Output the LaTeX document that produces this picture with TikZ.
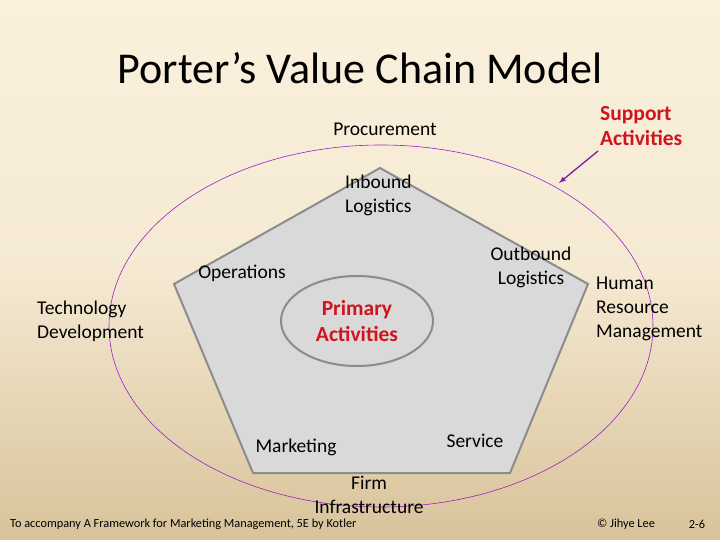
\documentclass[tikz,border=0pt]{standalone}
\usepackage{fontspec}
\setmainfont{Carlito}
\definecolor{bgtop}{HTML}{FAF0DC}
\definecolor{bgbot}{HTML}{D8C39A}
\definecolor{pent}{HTML}{D9D9D9}
\definecolor{pentline}{HTML}{8C8C8C}
\definecolor{redtxt}{HTML}{D0141E}
\definecolor{purp}{HTML}{9A20C8}
\definecolor{arrowc}{HTML}{7A1FA2}
\begin{document}
\begin{tikzpicture}[x=1pt,y=-1pt,
  lbl/.style={font=\fontsize{19.5}{24}\selectfont, align=center, inner sep=0pt},
  lbll/.style={lbl, align=left},
  redl/.style={lbl, text=redtxt, font=\fontsize{21.5}{25.5}\selectfont\bfseries},
  foot/.style={font=\fontsize{12.3}{14}\selectfont, inner sep=0pt}]
\shade[top color=bgtop, bottom color=bgbot, middle color=bgtop!85!bgbot] (0,0) rectangle (720,540);
\useasboundingbox (0,0) rectangle (720,540);
\node[font=\fontsize{44}{52}\selectfont, inner sep=0pt] (title) at (360,68) {Porter’s Value Chain Model};
\draw[purp, line width=0.6pt] (381,326) ellipse [x radius=272, y radius=181];
\coordinate (el) at (559,183);
\coordinate (s0) at (598,151);
\draw[pentline, line width=2pt, fill=pent, line join=miter] (380,168) -- (588,284) -- (510,473) -- (253,473) -- (174,284) -- cycle;
\draw[pentline, line width=2pt] (357,321) ellipse [x radius=76, y radius=45];
\node[lbl] (proc) at (385,129) {Procurement};
\node[redl, align=left, anchor=west] (sup) at (600,126) {Support\\Activities};
\draw[arrowc, line width=1.3pt, -latex] (s0) -- (el);
\node[lbll, anchor=west] (inb) at (345,195) {Inbound\\Logistics};
\node[lbl] (ops) at (242,273) {Operations};
\node[lbl] (outb) at (531,267) {Outbound\\Logistics};
\node[lbll, anchor=west] (hrm) at (596,309) {Human\\Resource\\Management};
\node[lbll, anchor=west] (tech) at (37,321) {Technology\\Development};
\node[redl] (prim) at (357,321) {Primary\\Activities};
\node[lbl] (mkt) at (296,447) {Marketing};
\node[lbl] (serv) at (475,441) {Service};
\node[lbl] (firm) at (369,495) {Firm\\Infrastructure};
\node[foot, anchor=west] (f1) at (10,524) {To accompany A Framework for Marketing Management, 5E by Kotler};
\node[foot] (f2) at (626,524) {© Jihye Lee};
\node[foot] (f3) at (697,524) {2-6};
\end{tikzpicture}
\end{document}
